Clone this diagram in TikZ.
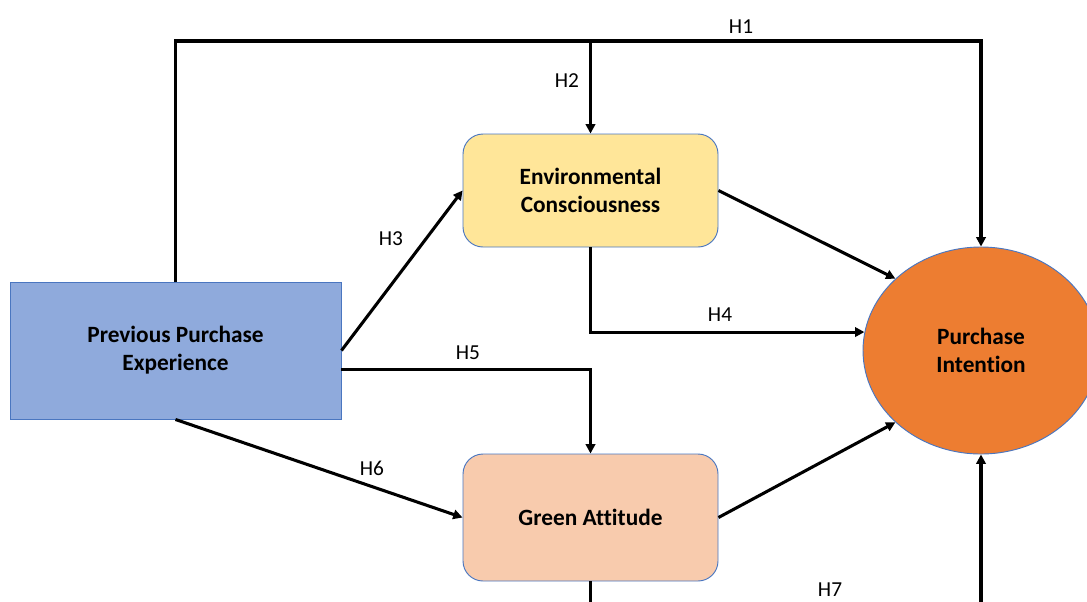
\documentclass[tikz,border=0pt]{standalone}
\usepackage{fontspec}
\setmainfont{Carlito}[Ligatures=NoCommon]
\usepackage{xcolor}
\usetikzlibrary{arrows.meta, shapes.geometric}

\definecolor{ppefill}{HTML}{8FAADC}
\definecolor{ecfill}{HTML}{FFE699}
\definecolor{gafill}{HTML}{F8CBAD}
\definecolor{pifill}{HTML}{ED7D31}
\definecolor{edge}{HTML}{4A76C0}

\begin{document}
\begin{tikzpicture}[x=0.75pt, y=-0.75pt,
  construct/.style={draw=edge, line width=0.7pt, inner sep=0pt, align=center,
    font=\fontsize{17.5}{21}\selectfont\bfseries},
  arr/.style={line width=2.3pt, -{Triangle[length=7pt,width=7pt]}},
  hyp/.style={font=\fontsize{16}{19}\selectfont}]
\useasboundingbox (0,0) rectangle (1087,601);
\clip (0,0) rectangle (1087,601);

\node[construct, fill=ppefill, minimum width=248.25pt, minimum height=102.75pt]
  (ppe) at (175.5,350.5) {Previous Purchase\\Experience};
\node[construct, fill=ecfill, rounded corners=15pt, minimum width=191.25pt, minimum height=84.75pt]
  (ec) at (590.5,190.5) {Environmental\\Consciousness};
\node[construct, fill=gafill, rounded corners=15pt, minimum width=191.25pt, minimum height=95.25pt]
  (ga) at (590.5,517.5) {Green Attitude};
\node[construct, ellipse, fill=pifill, minimum width=177pt, minimum height=155.25pt]
  (pi) at (981,350.5) {Purchase\\Intention};

\coordinate (topbar) at (590.5,41);
\coordinate (botbar) at (590.5,640);

\draw[arr] (ppe.north) |- (topbar) -| (pi.north);
\draw[arr] (topbar) -- (ec.north);
\draw[arr] (ppe.east) -- (ec.west);
\draw[arr] (ec.east) -- (pi.140);
\draw[arr] (ec.south) |- (pi.171);
\draw[arr] ([yshift=-14pt]ppe.east) -| (ga.north);
\draw[arr] (ppe.south) -- (ga.west);
\draw[arr] (ga.east) -- (pi.220);
\draw[arr] (ga.south) -- (botbar) -| (pi.south);

\node[hyp] (h1) at (741,27) {H1};
\node[hyp] (h2) at (567,81) {H2};
\node[hyp] (h3) at (391,239) {H3};
\node[hyp] (h4) at (720,315) {H4};
\node[hyp] (h5) at (468,353) {H5};
\node[hyp] (h6) at (372,468) {H6};
\node[hyp] (h7) at (830,590) {H7};
\end{tikzpicture}
\end{document}
